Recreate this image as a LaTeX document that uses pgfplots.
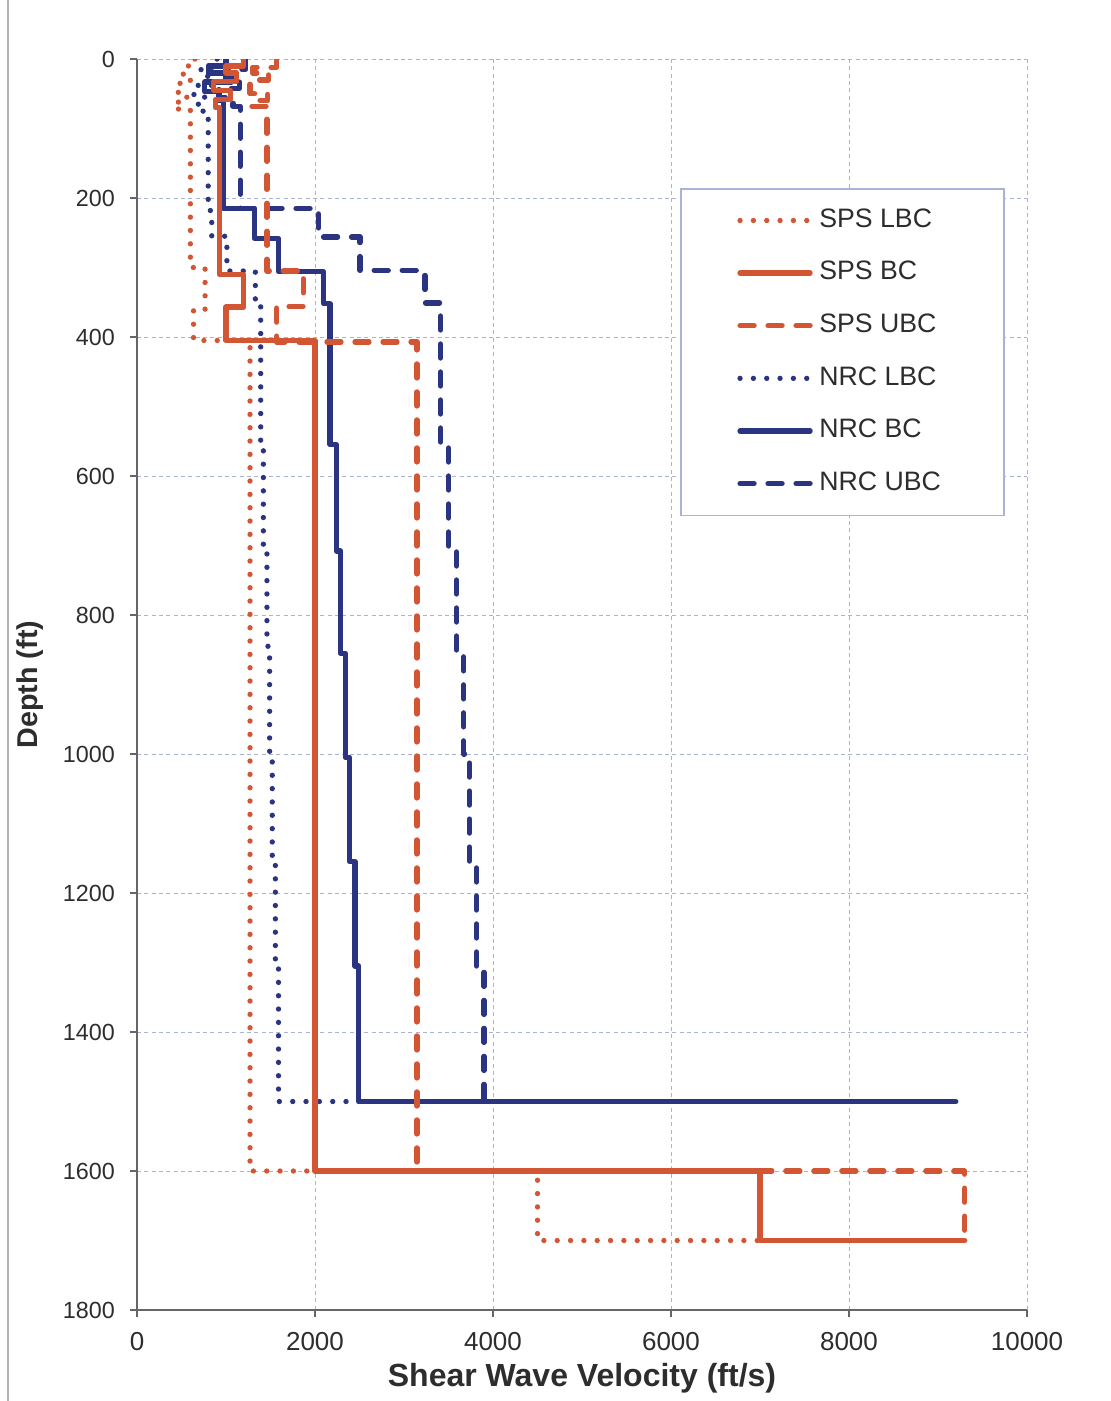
\documentclass[border=0pt]{standalone}
\usepackage{fontspec}
\setmainfont{Liberation Sans}
\usepackage{pgfplots}
\pgfplotsset{compat=1.18}
\definecolor{spsred}{RGB}{210,86,52}
\definecolor{nrcblue}{RGB}{42,52,128}
\definecolor{txt}{RGB}{45,45,45}
\definecolor{gridc}{RGB}{170,180,210}
\begin{document}
\begin{tikzpicture}
\useasboundingbox (-41.1pt,-27.3pt) rectangle (291.9pt,393pt);
\draw[gray!60,line width=0.4pt] (-38.7pt,-27.3pt) -- (-38.7pt,393pt);
\begin{axis}[
  at={(0pt,0pt)}, anchor=south west,
  scale only axis, width=267pt, height=375.3pt,
  xmin=0, xmax=10000, ymin=0, ymax=1800,
  y dir=reverse,
  axis x line=bottom, axis y line=left,
  axis line style={-, gray!80!black, line width=0.5pt},
  xtick={0,2000,...,10000}, ytick={0,200,...,1800},
  scaled x ticks=false,
  xticklabel style={/pgf/number format/1000 sep={}, yshift=-1.0pt, font=\fontsize{7.8}{8}\selectfont},
  yticklabel style={/pgf/number format/1000 sep={}, xshift=-1.0pt, font=\fontsize{7}{8}\selectfont},
  /pgf/number format/assume math mode=true,
  tick label style={text=txt},
  tick align=outside, major tick length=2.1pt,
  tick style={gray!80!black, line width=0.4pt},
  grid=major,
  major grid style={gridc, line width=0.3pt, dash pattern=on 1.2pt off 1pt},
  xlabel={\textbf{Shear Wave Velocity (ft/s)}},
  ylabel={\textbf{Depth (ft)}},
  xlabel style={font=\fontsize{9.6}{10}\selectfont, text=txt, yshift=3pt},
  ylabel style={font=\fontsize{8.6}{9}\selectfont, text=txt, yshift=-1pt},
  legend style={at={(0.61,0.897)}, anchor=north west, draw=gridc, line width=0.5pt,
    font=\fontsize{8}{9}\selectfont, text=txt, inner xsep=17pt, inner ysep=4pt,
    row sep=4.7pt, cells={anchor=west}},
  legend image code/.code={\draw[#1] (2pt,0pt) -- (23pt,0pt);},
  reverse legend,
  every axis plot/.append style={line width=1.6pt, line join=round},
]
% NRC UBC
\addplot[nrcblue, line cap=round, dash pattern=on 4.2pt off 4.2pt] coordinates {
(1220,0)(1220,15)(1000,15)(1000,28)(1150,28)(1150,42)(920,42)(920,55)(1080,55)(1080,68)(1160,68)(1160,215)(2040,215)(2040,256)(2505,256)(2505,304)(3236,304)(3236,351)(3410,351)(3410,553)(3500,553)(3500,707)(3590,707)(3590,855)(3670,855)(3670,1000)(3735,1000)(3735,1155)(3815,1155)(3815,1305)(3900,1305)(3900,1500)};
\addlegendentry{NRC UBC}
% NRC BC
\addplot[nrcblue, line cap=round] coordinates {
(1000,0)(1000,10)(800,10)(800,20)(1060,20)(1060,33)(760,33)(760,47)(920,47)(920,60)(970,60)(970,215)(1320,215)(1320,258)(1590,258)(1590,306)(2095,306)(2095,352)(2170,352)(2170,555)(2240,555)(2240,708)(2290,708)(2290,855)(2340,855)(2340,1005)(2390,1005)(2390,1155)(2450,1155)(2450,1305)(2490,1305)(2490,1500)(9200,1500)};
\addlegendentry{NRC BC}
% NRC LBC
\addplot[nrcblue, line cap=round, dash pattern=on 0pt off 4pt] coordinates {
(900,0)(900,12)(720,12)(720,25)(840,25)(840,38)(640,38)(640,52)(760,52)(760,65)(680,65)(680,75)(800,75)(800,218)(840,218)(840,255)(1010,255)(1010,305)(1330,305)(1330,355)(1390,355)(1390,550)(1420,550)(1420,700)(1460,700)(1460,845)(1490,845)(1490,1000)(1520,1000)(1520,1150)(1555,1150)(1555,1300)(1590,1300)(1590,1500)(2490,1500)};
\addlegendentry{NRC LBC}
% SPS UBC
\addplot[spsred, line cap=round, dash pattern=on 4.2pt off 4.2pt] coordinates {
(1570,0)(1570,12)(1300,12)(1300,20)(1480,20)(1480,30)(1270,30)(1270,50)(1470,50)(1470,60)(1290,60)(1290,68)(1460,68)(1460,305)(1870,305)(1870,356)(1570,356)(1570,407)(3145,407)(3145,1600)(9300,1600)(9300,1700)};
\addlegendentry{SPS UBC}
% SPS BC
\addplot[spsred, line cap=round] coordinates {
(1200,0)(1200,10)(1000,10)(1000,20)(1120,20)(1120,32)(860,32)(860,45)(1050,45)(1050,58)(880,58)(880,70)(925,70)(925,310)(1200,310)(1200,357)(1000,357)(1000,405)(2000,405)(2000,1600)(7000,1600)(7000,1700)(9300,1700)};
\addlegendentry{SPS BC}
% SPS LBC
\addplot[spsred, line cap=round, dash pattern=on 0pt off 4pt] coordinates {
(650,0)(650,10)(520,10)(520,22)(600,22)(600,35)(450,35)(450,48)(560,48)(560,62)(430,62)(430,72)(600,72)(600,300)(765,300)(765,360)(635,360)(635,405)(1270,405)(1270,1600)(4500,1600)(4500,1700)(7000,1700)};
\addlegendentry{SPS LBC}
\end{axis}
\end{tikzpicture}
\end{document}
